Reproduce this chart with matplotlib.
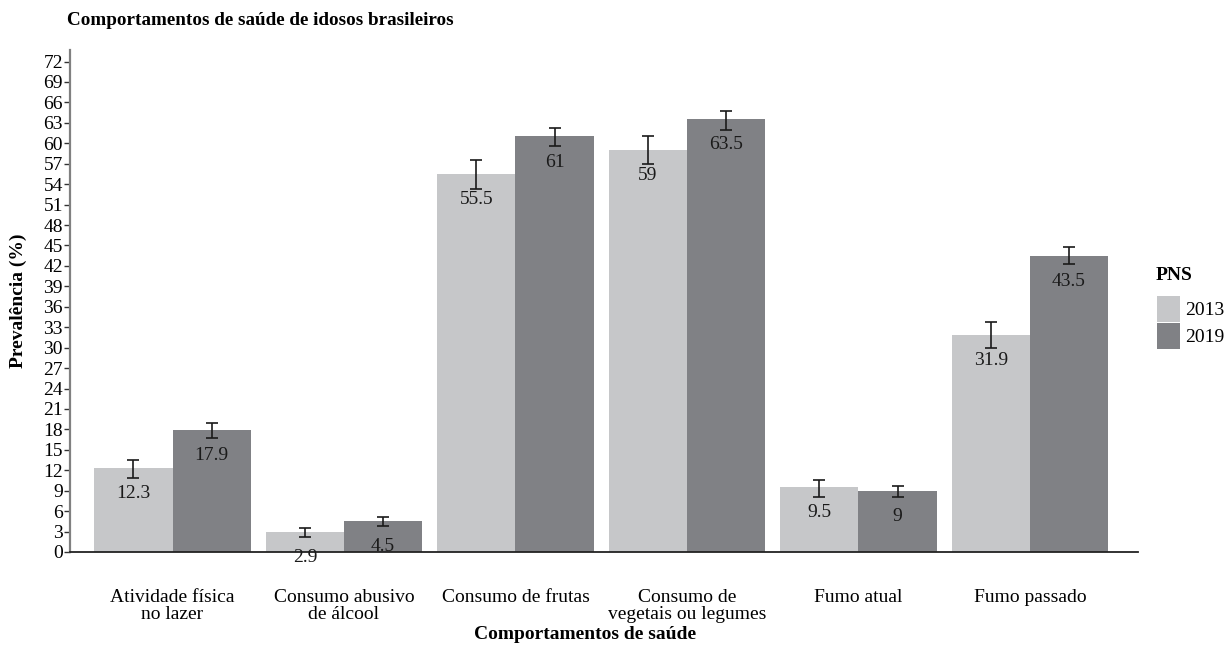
import numpy as np
import matplotlib
matplotlib.use("Agg")
import matplotlib.pyplot as plt

plt.rcParams['font.family'] = ['Liberation Serif', 'DejaVu Serif']

categorias = ["Atividade física\nno lazer", "Consumo abusivo\nde álcool", "Consumo de frutas",
              "Consumo de\nvegetais ou legumes", "Fumo atual", "Fumo passado"]
anos = ["2013", "2019"]
prev_2013 = [12.3, 2.9, 55.5, 59.0, 9.5, 31.9]
prev_2019 = [17.9, 4.5, 61.0, 63.5, 9.0, 43.5]
# intervalos de confiança (inferior, superior)
ic_2013 = [(10.9, 13.5), (2.2, 3.5), (53.3, 57.5), (57.0, 61.0), (8.1, 10.5), (30.0, 33.7)]
ic_2019 = [(16.7, 18.9), (3.8, 5.1), (59.6, 62.3), (62.0, 64.7), (8.1, 9.7), (42.3, 44.8)]

cores = ["#c6c7c9", "#808185"]
fs = 14

fig = plt.figure(figsize=(12.25, 6.69), dpi=100)
ax = fig.add_axes([0.0571, 0.1749, 0.8719, 0.7504])

x = np.arange(len(categorias))
w = 0.455

for k, (vals, ic, cor, ano) in enumerate(zip([prev_2013, prev_2019], [ic_2013, ic_2019], cores, anos)):
    pos = x + (k - 0.5) * w
    ax.bar(pos, vals, width=w, color=cor, label=ano, zorder=2)
    lo = [v - a for v, (a, b) in zip(vals, ic)]
    hi = [b - v for v, (a, b) in zip(vals, ic)]
    ax.errorbar(pos, vals, yerr=[lo, hi], fmt='none', ecolor='#1a1a1a',
                elinewidth=1.2, capsize=4.5, capthick=1.2, zorder=3)
    for p, v in zip(pos, vals):
        ax.text(p, v - 3.75, f"{v:g}", ha='center', va='center', fontsize=fs,
                color='#1a1a1a', zorder=4)

ax.set_xlim(-0.598, 5.63)
ax.set_ylim(0, 73.7)
ax.set_yticks(np.arange(0, 73, 3))
ax.set_xticks(x)
ax.set_xticklabels(categorias, fontsize=fs, linespacing=0.95)
ax.tick_params(axis='x', length=0, pad=27)
ax.tick_params(axis='y', labelsize=fs, length=4, width=1, color='#333333', pad=1)

for s in ['top', 'right']:
    ax.spines[s].set_visible(False)
ax.spines['left'].set_color('#808080')
ax.spines['left'].set_linewidth(1.6)
ax.spines['bottom'].set_color('#222222')
ax.spines['bottom'].set_linewidth(1.3)

ax.set_ylabel("Prevalência (%)", fontsize=fs, fontweight='bold')
ax.yaxis.set_label_coords(-0.040, 0.5)
ax.set_xlabel("Comportamentos de saúde", fontsize=fs, fontweight='bold')
ax.xaxis.set_label_coords(0.482, -0.147)

fig.text(0.0547, 0.970, "Comportamentos de saúde de idosos brasileiros",
         fontsize=13.8, fontweight='bold', ha='left', va='center')

# legenda: título à parte, chaves coladas uma na outra
fig.text(1156 / 1225, 1 - 275 / 669, "PNS", fontsize=fs, fontweight='bold',
         ha='left', va='center')
leg = ax.legend(loc='upper left', bbox_to_anchor=(1157 / 1225, 1 - 296 / 669),
                bbox_transform=fig.transFigure, frameon=False, fontsize=fs,
                handlelength=1.18, handleheight=1.68, handletextpad=0.26,
                labelspacing=0.05, borderpad=0.0, borderaxespad=0.0)

fig.savefig("out.png", dpi=100)
